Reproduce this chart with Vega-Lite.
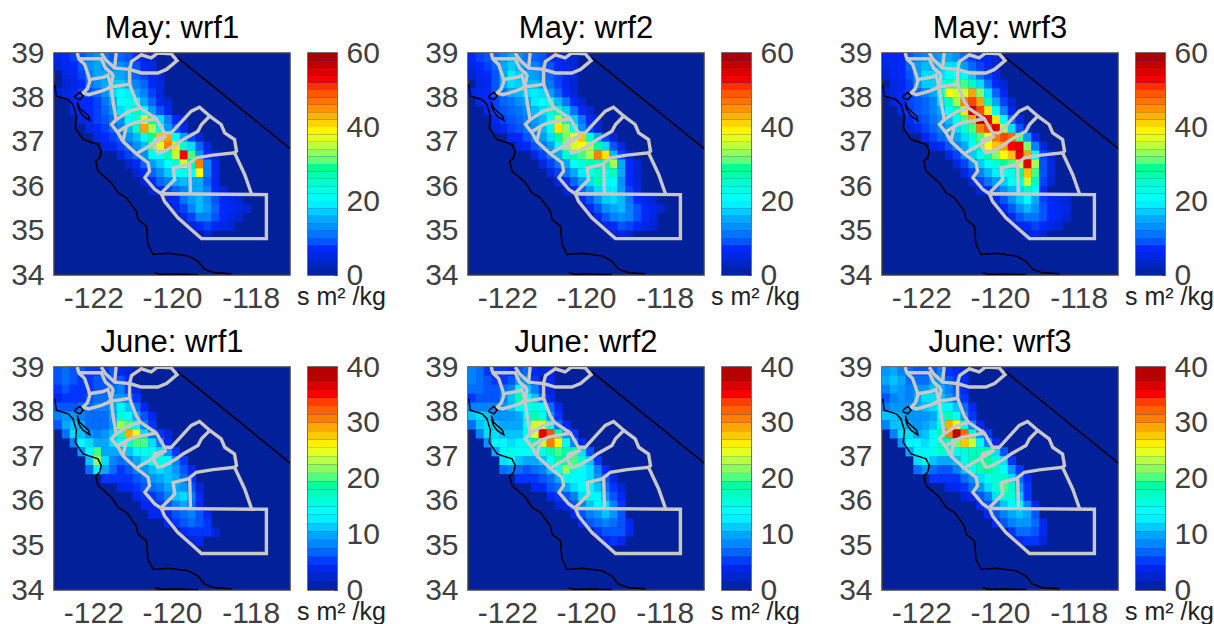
{"$schema":"https://vega.github.io/schema/vega-lite/v6.json","padding":{"left":9,"top":12,"right":0,"bottom":0},"config":{"font":"Liberation Sans","view":{"fill":"#03209b","stroke":"#404040","strokeWidth":1.5},"axis":{"grid":false,"labelFont":"Liberation Sans","labelFontSize":30,"labelColor":"#404040","ticks":false,"domain":false,"title":null},"title":{"font":"Liberation Sans","fontSize":31,"fontWeight":"normal","color":"#000000","offset":-7}},"datasets":{
"d1":[{"x":-122.9,"y":38.9,"v":5},{"x":-122.7,"y":38.9,"v":7},{"x":-122.5,"y":38.9,"v":8},{"x":-122.3,"y":38.9,"v":9},{"x":-122.1,"y":38.9,"v":11},{"x":-121.9,"y":38.9,"v":13},{"x":-121.7,"y":38.9,"v":11},{"x":-121.5,"y":38.9,"v":9},{"x":-121.3,"y":38.9,"v":10},{"x":-121.1,"y":38.9,"v":9},{"x":-120.9,"y":38.9,"v":7},{"x":-120.7,"y":38.9,"v":5},{"x":-120.5,"y":38.9,"v":4},
{"x":-122.9,"y":38.7,"v":4},{"x":-122.7,"y":38.7,"v":6},{"x":-122.5,"y":38.7,"v":7},{"x":-122.3,"y":38.7,"v":9},{"x":-122.1,"y":38.7,"v":13},{"x":-121.9,"y":38.7,"v":15},{"x":-121.7,"y":38.7,"v":13},{"x":-121.5,"y":38.7,"v":12},{"x":-121.3,"y":38.7,"v":13},{"x":-121.1,"y":38.7,"v":11},{"x":-120.9,"y":38.7,"v":9},{"x":-120.7,"y":38.7,"v":6},{"x":-120.5,"y":38.7,"v":5},
{"x":-122.7,"y":38.5,"v":5},{"x":-122.5,"y":38.5,"v":6},{"x":-122.3,"y":38.5,"v":8},{"x":-122.1,"y":38.5,"v":12},{"x":-121.9,"y":38.5,"v":15},{"x":-121.7,"y":38.5,"v":15},{"x":-121.5,"y":38.5,"v":15},{"x":-121.3,"y":38.5,"v":15},{"x":-121.1,"y":38.5,"v":13},{"x":-120.9,"y":38.5,"v":10},{"x":-120.7,"y":38.5,"v":8},{"x":-120.5,"y":38.5,"v":6},{"x":-120.3,"y":38.5,"v":4},
{"x":-122.7,"y":38.3,"v":4},{"x":-122.5,"y":38.3,"v":5},{"x":-122.3,"y":38.3,"v":7},{"x":-122.1,"y":38.3,"v":11},{"x":-121.9,"y":38.3,"v":13},{"x":-121.7,"y":38.3,"v":15},{"x":-121.5,"y":38.3,"v":17},{"x":-121.3,"y":38.3,"v":17},{"x":-121.1,"y":38.3,"v":15},{"x":-120.9,"y":38.3,"v":12},{"x":-120.7,"y":38.3,"v":10},{"x":-120.5,"y":38.3,"v":7},{"x":-120.3,"y":38.3,"v":5},
{"x":-122.9,"y":38.1,"v":4},{"x":-122.7,"y":38.1,"v":5},{"x":-122.5,"y":38.1,"v":6},{"x":-122.3,"y":38.1,"v":8},{"x":-122.1,"y":38.1,"v":9},{"x":-121.9,"y":38.1,"v":10},{"x":-121.7,"y":38.1,"v":13},{"x":-121.5,"y":38.1,"v":18},{"x":-121.3,"y":38.1,"v":20},{"x":-121.1,"y":38.1,"v":19},{"x":-120.9,"y":38.1,"v":15},{"x":-120.7,"y":38.1,"v":12},{"x":-120.5,"y":38.1,"v":8},{"x":-120.3,"y":38.1,"v":5},
{"x":-122.5,"y":37.9,"v":6},{"x":-122.3,"y":37.9,"v":7},{"x":-122.1,"y":37.9,"v":7},{"x":-121.9,"y":37.9,"v":8},{"x":-121.7,"y":37.9,"v":11},{"x":-121.5,"y":37.9,"v":15},{"x":-121.3,"y":37.9,"v":20},{"x":-121.1,"y":37.9,"v":22},{"x":-120.9,"y":37.9,"v":20},{"x":-120.7,"y":37.9,"v":15},{"x":-120.5,"y":37.9,"v":10},{"x":-120.3,"y":37.9,"v":6},{"x":-120.1,"y":37.9,"v":4},
{"x":-122.5,"y":37.7,"v":5},{"x":-122.3,"y":37.7,"v":7},{"x":-122.1,"y":37.7,"v":7},{"x":-121.9,"y":37.7,"v":8},{"x":-121.7,"y":37.7,"v":10},{"x":-121.5,"y":37.7,"v":13},{"x":-121.3,"y":37.7,"v":18},{"x":-121.1,"y":37.7,"v":21},{"x":-120.9,"y":37.7,"v":26},{"x":-120.7,"y":37.7,"v":20},{"x":-120.5,"y":37.7,"v":14},{"x":-120.3,"y":37.7,"v":9},{"x":-120.1,"y":37.7,"v":6},
{"x":-122.3,"y":37.5,"v":5},{"x":-122.1,"y":37.5,"v":6},{"x":-121.9,"y":37.5,"v":8},{"x":-121.7,"y":37.5,"v":9},{"x":-121.5,"y":37.5,"v":11},{"x":-121.3,"y":37.5,"v":13},{"x":-121.1,"y":37.5,"v":20},{"x":-120.9,"y":37.5,"v":24},{"x":-120.7,"y":37.5,"v":36},{"x":-120.5,"y":37.5,"v":28},{"x":-120.3,"y":37.5,"v":18},{"x":-120.1,"y":37.5,"v":12},{"x":-119.9,"y":37.5,"v":7},{"x":-119.7,"y":37.5,"v":4},
{"x":-122.1,"y":37.3,"v":5},{"x":-121.9,"y":37.3,"v":7},{"x":-121.7,"y":37.3,"v":8},{"x":-121.5,"y":37.3,"v":10},{"x":-121.3,"y":37.3,"v":12},{"x":-121.1,"y":37.3,"v":16},{"x":-120.9,"y":37.3,"v":25},{"x":-120.7,"y":37.3,"v":44},{"x":-120.5,"y":37.3,"v":34},{"x":-120.3,"y":37.3,"v":22},{"x":-120.1,"y":37.3,"v":14},{"x":-119.9,"y":37.3,"v":9},{"x":-119.7,"y":37.3,"v":5},
{"x":-121.9,"y":37.1,"v":5},{"x":-121.7,"y":37.1,"v":7},{"x":-121.5,"y":37.1,"v":8},{"x":-121.3,"y":37.1,"v":10},{"x":-121.1,"y":37.1,"v":13},{"x":-120.9,"y":37.1,"v":16},{"x":-120.7,"y":37.1,"v":22},{"x":-120.5,"y":37.1,"v":28},{"x":-120.3,"y":37.1,"v":42},{"x":-120.1,"y":37.1,"v":44},{"x":-119.9,"y":37.1,"v":20},{"x":-119.7,"y":37.1,"v":14},{"x":-119.5,"y":37.1,"v":8},{"x":-119.3,"y":37.1,"v":4},
{"x":-121.7,"y":36.9,"v":5},{"x":-121.5,"y":36.9,"v":6},{"x":-121.3,"y":36.9,"v":8},{"x":-121.1,"y":36.9,"v":10},{"x":-120.9,"y":36.9,"v":13},{"x":-120.7,"y":36.9,"v":16},{"x":-120.5,"y":36.9,"v":30},{"x":-120.3,"y":36.9,"v":37},{"x":-120.1,"y":36.9,"v":46},{"x":-119.9,"y":36.9,"v":40},{"x":-119.7,"y":36.9,"v":24},{"x":-119.5,"y":36.9,"v":18},{"x":-119.3,"y":36.9,"v":10},{"x":-119.1,"y":36.9,"v":5},
{"x":-121.3,"y":36.7,"v":5},{"x":-121.1,"y":36.7,"v":8},{"x":-120.9,"y":36.7,"v":10},{"x":-120.7,"y":36.7,"v":13},{"x":-120.5,"y":36.7,"v":20},{"x":-120.3,"y":36.7,"v":20},{"x":-120.1,"y":36.7,"v":26},{"x":-119.9,"y":36.7,"v":35},{"x":-119.7,"y":36.7,"v":52},{"x":-119.5,"y":36.7,"v":30},{"x":-119.3,"y":36.7,"v":14},{"x":-119.1,"y":36.7,"v":7},{"x":-118.9,"y":36.7,"v":4},
{"x":-121.1,"y":36.5,"v":4},{"x":-120.9,"y":36.5,"v":7},{"x":-120.7,"y":36.5,"v":10},{"x":-120.5,"y":36.5,"v":14},{"x":-120.3,"y":36.5,"v":17},{"x":-120.1,"y":36.5,"v":20},{"x":-119.9,"y":36.5,"v":24},{"x":-119.7,"y":36.5,"v":36},{"x":-119.5,"y":36.5,"v":28},{"x":-119.3,"y":36.5,"v":46},{"x":-119.1,"y":36.5,"v":12},{"x":-118.9,"y":36.5,"v":6},
{"x":-120.9,"y":36.3,"v":4},{"x":-120.7,"y":36.3,"v":7},{"x":-120.5,"y":36.3,"v":10},{"x":-120.3,"y":36.3,"v":13},{"x":-120.1,"y":36.3,"v":17},{"x":-119.9,"y":36.3,"v":20},{"x":-119.7,"y":36.3,"v":22},{"x":-119.5,"y":36.3,"v":20},{"x":-119.3,"y":36.3,"v":38},{"x":-119.1,"y":36.3,"v":12},{"x":-118.9,"y":36.3,"v":6},
{"x":-120.7,"y":36.1,"v":4},{"x":-120.5,"y":36.1,"v":7},{"x":-120.3,"y":36.1,"v":10},{"x":-120.1,"y":36.1,"v":12},{"x":-119.9,"y":36.1,"v":15},{"x":-119.7,"y":36.1,"v":16},{"x":-119.5,"y":36.1,"v":15},{"x":-119.3,"y":36.1,"v":15},{"x":-119.1,"y":36.1,"v":10},{"x":-118.9,"y":36.1,"v":6},
{"x":-120.5,"y":35.9,"v":4},{"x":-120.3,"y":35.9,"v":6},{"x":-120.1,"y":35.9,"v":8},{"x":-119.9,"y":35.9,"v":10},{"x":-119.7,"y":35.9,"v":12},{"x":-119.5,"y":35.9,"v":15},{"x":-119.3,"y":35.9,"v":15},{"x":-119.1,"y":35.9,"v":12},{"x":-118.9,"y":35.9,"v":7},{"x":-118.7,"y":35.9,"v":4},
{"x":-120.1,"y":35.7,"v":5},{"x":-119.9,"y":35.7,"v":7},{"x":-119.7,"y":35.7,"v":11},{"x":-119.5,"y":35.7,"v":14},{"x":-119.3,"y":35.7,"v":16},{"x":-119.1,"y":35.7,"v":13},{"x":-118.9,"y":35.7,"v":9},{"x":-118.7,"y":35.7,"v":6},{"x":-118.5,"y":35.7,"v":5},{"x":-118.3,"y":35.7,"v":4},
{"x":-119.9,"y":35.5,"v":5},{"x":-119.7,"y":35.5,"v":8},{"x":-119.5,"y":35.5,"v":12},{"x":-119.3,"y":35.5,"v":16},{"x":-119.1,"y":35.5,"v":14},{"x":-118.9,"y":35.5,"v":10},{"x":-118.7,"y":35.5,"v":7},{"x":-118.5,"y":35.5,"v":6},{"x":-118.3,"y":35.5,"v":5},{"x":-118.1,"y":35.5,"v":4},
{"x":-119.7,"y":35.3,"v":5},{"x":-119.5,"y":35.3,"v":8},{"x":-119.3,"y":35.3,"v":12},{"x":-119.1,"y":35.3,"v":12},{"x":-118.9,"y":35.3,"v":9},{"x":-118.7,"y":35.3,"v":7},{"x":-118.5,"y":35.3,"v":5},{"x":-118.3,"y":35.3,"v":4},
{"x":-119.5,"y":35.1,"v":4},{"x":-119.3,"y":35.1,"v":7},{"x":-119.1,"y":35.1,"v":8},{"x":-118.9,"y":35.1,"v":6},{"x":-118.7,"y":35.1,"v":5},{"x":-118.5,"y":35.1,"v":4},{"x":-119.1,"y":34.9,"v":4}],
"d2":[{"x":-122.9,"y":38.9,"v":6},{"x":-122.7,"y":38.9,"v":8},{"x":-122.5,"y":38.9,"v":9},{"x":-122.3,"y":38.9,"v":10},{"x":-122.1,"y":38.9,"v":12},{"x":-121.9,"y":38.9,"v":15},{"x":-121.7,"y":38.9,"v":13},{"x":-121.5,"y":38.9,"v":11},{"x":-121.3,"y":38.9,"v":10},{"x":-121.1,"y":38.9,"v":9},{"x":-120.9,"y":38.9,"v":7},{"x":-120.7,"y":38.9,"v":6},{"x":-120.5,"y":38.9,"v":5},{"x":-120.3,"y":38.9,"v":4},
{"x":-122.9,"y":38.7,"v":5},{"x":-122.7,"y":38.7,"v":7},{"x":-122.5,"y":38.7,"v":8},{"x":-122.3,"y":38.7,"v":10},{"x":-122.1,"y":38.7,"v":15},{"x":-121.9,"y":38.7,"v":17},{"x":-121.7,"y":38.7,"v":15},{"x":-121.5,"y":38.7,"v":12},{"x":-121.3,"y":38.7,"v":12},{"x":-121.1,"y":38.7,"v":10},{"x":-120.9,"y":38.7,"v":9},{"x":-120.7,"y":38.7,"v":7},{"x":-120.5,"y":38.7,"v":5},{"x":-120.3,"y":38.7,"v":4},
{"x":-122.9,"y":38.5,"v":4},{"x":-122.7,"y":38.5,"v":6},{"x":-122.5,"y":38.5,"v":7},{"x":-122.3,"y":38.5,"v":9},{"x":-122.1,"y":38.5,"v":15},{"x":-121.9,"y":38.5,"v":19},{"x":-121.7,"y":38.5,"v":17},{"x":-121.5,"y":38.5,"v":15},{"x":-121.3,"y":38.5,"v":14},{"x":-121.1,"y":38.5,"v":12},{"x":-120.9,"y":38.5,"v":10},{"x":-120.7,"y":38.5,"v":8},{"x":-120.5,"y":38.5,"v":6},{"x":-120.3,"y":38.5,"v":4},
{"x":-122.7,"y":38.3,"v":5},{"x":-122.5,"y":38.3,"v":6},{"x":-122.3,"y":38.3,"v":9},{"x":-122.1,"y":38.3,"v":15},{"x":-121.9,"y":38.3,"v":18},{"x":-121.7,"y":38.3,"v":17},{"x":-121.5,"y":38.3,"v":16},{"x":-121.3,"y":38.3,"v":16},{"x":-121.1,"y":38.3,"v":14},{"x":-120.9,"y":38.3,"v":11},{"x":-120.7,"y":38.3,"v":8},{"x":-120.5,"y":38.3,"v":6},{"x":-120.3,"y":38.3,"v":4},
{"x":-122.9,"y":38.1,"v":5},{"x":-122.7,"y":38.1,"v":6},{"x":-122.5,"y":38.1,"v":7},{"x":-122.3,"y":38.1,"v":9},{"x":-122.1,"y":38.1,"v":11},{"x":-121.9,"y":38.1,"v":15},{"x":-121.7,"y":38.1,"v":16},{"x":-121.5,"y":38.1,"v":18},{"x":-121.3,"y":38.1,"v":19},{"x":-121.1,"y":38.1,"v":18},{"x":-120.9,"y":38.1,"v":14},{"x":-120.7,"y":38.1,"v":10},{"x":-120.5,"y":38.1,"v":7},{"x":-120.3,"y":38.1,"v":4},
{"x":-122.7,"y":37.9,"v":5},{"x":-122.5,"y":37.9,"v":7},{"x":-122.3,"y":37.9,"v":8},{"x":-122.1,"y":37.9,"v":10},{"x":-121.9,"y":37.9,"v":11},{"x":-121.7,"y":37.9,"v":13},{"x":-121.5,"y":37.9,"v":15},{"x":-121.3,"y":37.9,"v":19},{"x":-121.1,"y":37.9,"v":20},{"x":-120.9,"y":37.9,"v":22},{"x":-120.7,"y":37.9,"v":16},{"x":-120.5,"y":37.9,"v":11},{"x":-120.3,"y":37.9,"v":7},{"x":-120.1,"y":37.9,"v":4},
{"x":-122.5,"y":37.7,"v":6},{"x":-122.3,"y":37.7,"v":8},{"x":-122.1,"y":37.7,"v":9},{"x":-121.9,"y":37.7,"v":10},{"x":-121.7,"y":37.7,"v":11},{"x":-121.5,"y":37.7,"v":13},{"x":-121.3,"y":37.7,"v":16},{"x":-121.1,"y":37.7,"v":18},{"x":-120.9,"y":37.7,"v":24},{"x":-120.7,"y":37.7,"v":26},{"x":-120.5,"y":37.7,"v":17},{"x":-120.3,"y":37.7,"v":11},{"x":-120.1,"y":37.7,"v":7},{"x":-119.9,"y":37.7,"v":4},
{"x":-122.3,"y":37.5,"v":6},{"x":-122.1,"y":37.5,"v":8},{"x":-121.9,"y":37.5,"v":9},{"x":-121.7,"y":37.5,"v":10},{"x":-121.5,"y":37.5,"v":12},{"x":-121.3,"y":37.5,"v":14},{"x":-121.1,"y":37.5,"v":16},{"x":-120.9,"y":37.5,"v":22},{"x":-120.7,"y":37.5,"v":34},{"x":-120.5,"y":37.5,"v":26},{"x":-120.3,"y":37.5,"v":17},{"x":-120.1,"y":37.5,"v":11},{"x":-119.9,"y":37.5,"v":6},{"x":-119.7,"y":37.5,"v":4},
{"x":-122.3,"y":37.3,"v":4},{"x":-122.1,"y":37.3,"v":6},{"x":-121.9,"y":37.3,"v":8},{"x":-121.7,"y":37.3,"v":9},{"x":-121.5,"y":37.3,"v":11},{"x":-121.3,"y":37.3,"v":13},{"x":-121.1,"y":37.3,"v":16},{"x":-120.9,"y":37.3,"v":22},{"x":-120.7,"y":37.3,"v":40},{"x":-120.5,"y":37.3,"v":33},{"x":-120.3,"y":37.3,"v":20},{"x":-120.1,"y":37.3,"v":13},{"x":-119.9,"y":37.3,"v":8},{"x":-119.7,"y":37.3,"v":4},
{"x":-121.9,"y":37.1,"v":6},{"x":-121.7,"y":37.1,"v":7},{"x":-121.5,"y":37.1,"v":9},{"x":-121.3,"y":37.1,"v":11},{"x":-121.1,"y":37.1,"v":14},{"x":-120.9,"y":37.1,"v":18},{"x":-120.7,"y":37.1,"v":28},{"x":-120.5,"y":37.1,"v":32},{"x":-120.3,"y":37.1,"v":38},{"x":-120.1,"y":37.1,"v":42},{"x":-119.9,"y":37.1,"v":24},{"x":-119.7,"y":37.1,"v":15},{"x":-119.5,"y":37.1,"v":8},{"x":-119.3,"y":37.1,"v":4},
{"x":-121.7,"y":36.9,"v":5},{"x":-121.5,"y":36.9,"v":7},{"x":-121.3,"y":36.9,"v":9},{"x":-121.1,"y":36.9,"v":11},{"x":-120.9,"y":36.9,"v":14},{"x":-120.7,"y":36.9,"v":20},{"x":-120.5,"y":36.9,"v":32},{"x":-120.3,"y":36.9,"v":36},{"x":-120.1,"y":36.9,"v":38},{"x":-119.9,"y":36.9,"v":34},{"x":-119.7,"y":36.9,"v":28},{"x":-119.5,"y":36.9,"v":18},{"x":-119.3,"y":36.9,"v":9},{"x":-119.1,"y":36.9,"v":5},
{"x":-121.3,"y":36.7,"v":5},{"x":-121.1,"y":36.7,"v":8},{"x":-120.9,"y":36.7,"v":11},{"x":-120.7,"y":36.7,"v":15},{"x":-120.5,"y":36.7,"v":24},{"x":-120.3,"y":36.7,"v":26},{"x":-120.1,"y":36.7,"v":30},{"x":-119.9,"y":36.7,"v":34},{"x":-119.7,"y":36.7,"v":46},{"x":-119.5,"y":36.7,"v":40},{"x":-119.3,"y":36.7,"v":16},{"x":-119.1,"y":36.7,"v":8},{"x":-118.9,"y":36.7,"v":4},
{"x":-121.1,"y":36.5,"v":5},{"x":-120.9,"y":36.5,"v":8},{"x":-120.7,"y":36.5,"v":11},{"x":-120.5,"y":36.5,"v":15},{"x":-120.3,"y":36.5,"v":20},{"x":-120.1,"y":36.5,"v":24},{"x":-119.9,"y":36.5,"v":26},{"x":-119.7,"y":36.5,"v":26},{"x":-119.5,"y":36.5,"v":28},{"x":-119.3,"y":36.5,"v":34},{"x":-119.1,"y":36.5,"v":15},{"x":-118.9,"y":36.5,"v":7},{"x":-118.7,"y":36.5,"v":4},
{"x":-120.9,"y":36.3,"v":5},{"x":-120.7,"y":36.3,"v":8},{"x":-120.5,"y":36.3,"v":11},{"x":-120.3,"y":36.3,"v":15},{"x":-120.1,"y":36.3,"v":19},{"x":-119.9,"y":36.3,"v":22},{"x":-119.7,"y":36.3,"v":25},{"x":-119.5,"y":36.3,"v":22},{"x":-119.3,"y":36.3,"v":26},{"x":-119.1,"y":36.3,"v":15},{"x":-118.9,"y":36.3,"v":7},{"x":-118.7,"y":36.3,"v":4},
{"x":-120.7,"y":36.1,"v":5},{"x":-120.5,"y":36.1,"v":7},{"x":-120.3,"y":36.1,"v":10},{"x":-120.1,"y":36.1,"v":14},{"x":-119.9,"y":36.1,"v":18},{"x":-119.7,"y":36.1,"v":27},{"x":-119.5,"y":36.1,"v":20},{"x":-119.3,"y":36.1,"v":20},{"x":-119.1,"y":36.1,"v":13},{"x":-118.9,"y":36.1,"v":7},{"x":-118.7,"y":36.1,"v":4},
{"x":-120.5,"y":35.9,"v":4},{"x":-120.3,"y":35.9,"v":6},{"x":-120.1,"y":35.9,"v":10},{"x":-119.9,"y":35.9,"v":14},{"x":-119.7,"y":35.9,"v":18},{"x":-119.5,"y":35.9,"v":19},{"x":-119.3,"y":35.9,"v":19},{"x":-119.1,"y":35.9,"v":14},{"x":-118.9,"y":35.9,"v":8},{"x":-118.7,"y":35.9,"v":5},
{"x":-120.1,"y":35.7,"v":6},{"x":-119.9,"y":35.7,"v":9},{"x":-119.7,"y":35.7,"v":13},{"x":-119.5,"y":35.7,"v":17},{"x":-119.3,"y":35.7,"v":18},{"x":-119.1,"y":35.7,"v":16},{"x":-118.9,"y":35.7,"v":11},{"x":-118.7,"y":35.7,"v":7},{"x":-118.5,"y":35.7,"v":5},{"x":-118.3,"y":35.7,"v":4},
{"x":-119.9,"y":35.5,"v":6},{"x":-119.7,"y":35.5,"v":9},{"x":-119.5,"y":35.5,"v":13},{"x":-119.3,"y":35.5,"v":15},{"x":-119.1,"y":35.5,"v":16},{"x":-118.9,"y":35.5,"v":12},{"x":-118.7,"y":35.5,"v":9},{"x":-118.5,"y":35.5,"v":7},{"x":-118.3,"y":35.5,"v":5},{"x":-118.1,"y":35.5,"v":4},
{"x":-119.7,"y":35.3,"v":6},{"x":-119.5,"y":35.3,"v":9},{"x":-119.3,"y":35.3,"v":12},{"x":-119.1,"y":35.3,"v":13},{"x":-118.9,"y":35.3,"v":12},{"x":-118.7,"y":35.3,"v":9},{"x":-118.5,"y":35.3,"v":7},{"x":-118.3,"y":35.3,"v":5},
{"x":-119.5,"y":35.1,"v":5},{"x":-119.3,"y":35.1,"v":7},{"x":-119.1,"y":35.1,"v":9},{"x":-118.9,"y":35.1,"v":8},{"x":-118.7,"y":35.1,"v":7},{"x":-118.5,"y":35.1,"v":5},{"x":-118.3,"y":35.1,"v":4},{"x":-119.3,"y":34.9,"v":4},{"x":-119.1,"y":34.9,"v":5},{"x":-118.9,"y":34.9,"v":4}],
"d3":[{"x":-122.9,"y":38.9,"v":6},{"x":-122.7,"y":38.9,"v":6},{"x":-122.5,"y":38.9,"v":7},{"x":-122.3,"y":38.9,"v":9},{"x":-122.1,"y":38.9,"v":11},{"x":-121.9,"y":38.9,"v":12},{"x":-121.7,"y":38.9,"v":13},{"x":-121.5,"y":38.9,"v":14},{"x":-121.3,"y":38.9,"v":15},{"x":-121.1,"y":38.9,"v":13},{"x":-120.9,"y":38.9,"v":10},{"x":-120.7,"y":38.9,"v":8},{"x":-120.5,"y":38.9,"v":6},{"x":-120.3,"y":38.9,"v":5},{"x":-120.1,"y":38.9,"v":4},
{"x":-122.9,"y":38.7,"v":5},{"x":-122.7,"y":38.7,"v":6},{"x":-122.5,"y":38.7,"v":7},{"x":-122.3,"y":38.7,"v":10},{"x":-122.1,"y":38.7,"v":14},{"x":-121.9,"y":38.7,"v":16},{"x":-121.7,"y":38.7,"v":15},{"x":-121.5,"y":38.7,"v":16},{"x":-121.3,"y":38.7,"v":18},{"x":-121.1,"y":38.7,"v":18},{"x":-120.9,"y":38.7,"v":14},{"x":-120.7,"y":38.7,"v":10},{"x":-120.5,"y":38.7,"v":8},{"x":-120.3,"y":38.7,"v":6},{"x":-120.1,"y":38.7,"v":4},
{"x":-122.9,"y":38.5,"v":4},{"x":-122.7,"y":38.5,"v":6},{"x":-122.5,"y":38.5,"v":7},{"x":-122.3,"y":38.5,"v":9},{"x":-122.1,"y":38.5,"v":14},{"x":-121.9,"y":38.5,"v":18},{"x":-121.7,"y":38.5,"v":18},{"x":-121.5,"y":38.5,"v":18},{"x":-121.3,"y":38.5,"v":21},{"x":-121.1,"y":38.5,"v":21},{"x":-120.9,"y":38.5,"v":20},{"x":-120.7,"y":38.5,"v":17},{"x":-120.5,"y":38.5,"v":11},{"x":-120.3,"y":38.5,"v":8},{"x":-120.1,"y":38.5,"v":5},
{"x":-122.7,"y":38.3,"v":5},{"x":-122.5,"y":38.3,"v":6},{"x":-122.3,"y":38.3,"v":8},{"x":-122.1,"y":38.3,"v":13},{"x":-121.9,"y":38.3,"v":17},{"x":-121.7,"y":38.3,"v":17},{"x":-121.5,"y":38.3,"v":20},{"x":-121.3,"y":38.3,"v":26},{"x":-121.1,"y":38.3,"v":30},{"x":-120.9,"y":38.3,"v":30},{"x":-120.7,"y":38.3,"v":26},{"x":-120.5,"y":38.3,"v":18},{"x":-120.3,"y":38.3,"v":11},{"x":-120.1,"y":38.3,"v":7},{"x":-119.9,"y":38.3,"v":4},
{"x":-122.9,"y":38.1,"v":4},{"x":-122.7,"y":38.1,"v":5},{"x":-122.5,"y":38.1,"v":7},{"x":-122.3,"y":38.1,"v":8},{"x":-122.1,"y":38.1,"v":10},{"x":-121.9,"y":38.1,"v":12},{"x":-121.7,"y":38.1,"v":15},{"x":-121.5,"y":38.1,"v":24},{"x":-121.3,"y":38.1,"v":38},{"x":-121.1,"y":38.1,"v":36},{"x":-120.9,"y":38.1,"v":36},{"x":-120.7,"y":38.1,"v":44},{"x":-120.5,"y":38.1,"v":32},{"x":-120.3,"y":38.1,"v":18},{"x":-120.1,"y":38.1,"v":10},{"x":-119.9,"y":38.1,"v":6},
{"x":-122.7,"y":37.9,"v":4},{"x":-122.5,"y":37.9,"v":7},{"x":-122.3,"y":37.9,"v":8},{"x":-122.1,"y":37.9,"v":9},{"x":-121.9,"y":37.9,"v":10},{"x":-121.7,"y":37.9,"v":12},{"x":-121.5,"y":37.9,"v":18},{"x":-121.3,"y":37.9,"v":26},{"x":-121.1,"y":37.9,"v":34},{"x":-120.9,"y":37.9,"v":46},{"x":-120.7,"y":37.9,"v":50},{"x":-120.5,"y":37.9,"v":44},{"x":-120.3,"y":37.9,"v":26},{"x":-120.1,"y":37.9,"v":15},{"x":-119.9,"y":37.9,"v":8},{"x":-119.7,"y":37.9,"v":4},
{"x":-122.5,"y":37.7,"v":6},{"x":-122.3,"y":37.7,"v":8},{"x":-122.1,"y":37.7,"v":9},{"x":-121.9,"y":37.7,"v":10},{"x":-121.7,"y":37.7,"v":12},{"x":-121.5,"y":37.7,"v":15},{"x":-121.3,"y":37.7,"v":20},{"x":-121.1,"y":37.7,"v":28},{"x":-120.9,"y":37.7,"v":40},{"x":-120.7,"y":37.7,"v":56},{"x":-120.5,"y":37.7,"v":50},{"x":-120.3,"y":37.7,"v":40},{"x":-120.1,"y":37.7,"v":22},{"x":-119.9,"y":37.7,"v":12},{"x":-119.7,"y":37.7,"v":6},
{"x":-122.3,"y":37.5,"v":6},{"x":-122.1,"y":37.5,"v":8},{"x":-121.9,"y":37.5,"v":9},{"x":-121.7,"y":37.5,"v":11},{"x":-121.5,"y":37.5,"v":13},{"x":-121.3,"y":37.5,"v":16},{"x":-121.1,"y":37.5,"v":21},{"x":-120.9,"y":37.5,"v":30},{"x":-120.7,"y":37.5,"v":44},{"x":-120.5,"y":37.5,"v":58},{"x":-120.3,"y":37.5,"v":54},{"x":-120.1,"y":37.5,"v":40},{"x":-119.9,"y":37.5,"v":20},{"x":-119.7,"y":37.5,"v":10},{"x":-119.5,"y":37.5,"v":5},
{"x":-122.3,"y":37.3,"v":4},{"x":-122.1,"y":37.3,"v":6},{"x":-121.9,"y":37.3,"v":8},{"x":-121.7,"y":37.3,"v":10},{"x":-121.5,"y":37.3,"v":12},{"x":-121.3,"y":37.3,"v":14},{"x":-121.1,"y":37.3,"v":18},{"x":-120.9,"y":37.3,"v":24},{"x":-120.7,"y":37.3,"v":30},{"x":-120.5,"y":37.3,"v":46},{"x":-120.3,"y":37.3,"v":50},{"x":-120.1,"y":37.3,"v":54},{"x":-119.9,"y":37.3,"v":34},{"x":-119.7,"y":37.3,"v":18},{"x":-119.5,"y":37.3,"v":9},{"x":-119.3,"y":37.3,"v":4},
{"x":-121.9,"y":37.1,"v":6},{"x":-121.7,"y":37.1,"v":8},{"x":-121.5,"y":37.1,"v":10},{"x":-121.3,"y":37.1,"v":12},{"x":-121.1,"y":37.1,"v":15},{"x":-120.9,"y":37.1,"v":18},{"x":-120.7,"y":37.1,"v":24},{"x":-120.5,"y":37.1,"v":30},{"x":-120.3,"y":37.1,"v":38},{"x":-120.1,"y":37.1,"v":46},{"x":-119.9,"y":37.1,"v":50},{"x":-119.7,"y":37.1,"v":48},{"x":-119.5,"y":37.1,"v":30},{"x":-119.3,"y":37.1,"v":14},{"x":-119.1,"y":37.1,"v":6},
{"x":-121.7,"y":36.9,"v":5},{"x":-121.5,"y":36.9,"v":7},{"x":-121.3,"y":36.9,"v":9},{"x":-121.1,"y":36.9,"v":12},{"x":-120.9,"y":36.9,"v":15},{"x":-120.7,"y":36.9,"v":20},{"x":-120.5,"y":36.9,"v":28},{"x":-120.3,"y":36.9,"v":38},{"x":-120.1,"y":36.9,"v":42},{"x":-119.9,"y":36.9,"v":44},{"x":-119.7,"y":36.9,"v":52},{"x":-119.5,"y":36.9,"v":54},{"x":-119.3,"y":36.9,"v":32},{"x":-119.1,"y":36.9,"v":12},{"x":-118.9,"y":36.9,"v":5},
{"x":-121.3,"y":36.7,"v":5},{"x":-121.1,"y":36.7,"v":8},{"x":-120.9,"y":36.7,"v":12},{"x":-120.7,"y":36.7,"v":17},{"x":-120.5,"y":36.7,"v":22},{"x":-120.3,"y":36.7,"v":27},{"x":-120.1,"y":36.7,"v":32},{"x":-119.9,"y":36.7,"v":38},{"x":-119.7,"y":36.7,"v":42},{"x":-119.5,"y":36.7,"v":54},{"x":-119.3,"y":36.7,"v":44},{"x":-119.1,"y":36.7,"v":20},{"x":-118.9,"y":36.7,"v":8},{"x":-118.7,"y":36.7,"v":4},
{"x":-121.1,"y":36.5,"v":5},{"x":-120.9,"y":36.5,"v":8},{"x":-120.7,"y":36.5,"v":13},{"x":-120.5,"y":36.5,"v":17},{"x":-120.3,"y":36.5,"v":21},{"x":-120.1,"y":36.5,"v":24},{"x":-119.9,"y":36.5,"v":28},{"x":-119.7,"y":36.5,"v":30},{"x":-119.5,"y":36.5,"v":36},{"x":-119.3,"y":36.5,"v":54},{"x":-119.1,"y":36.5,"v":34},{"x":-118.9,"y":36.5,"v":9},{"x":-118.7,"y":36.5,"v":5},
{"x":-120.9,"y":36.3,"v":5},{"x":-120.7,"y":36.3,"v":8},{"x":-120.5,"y":36.3,"v":12},{"x":-120.3,"y":36.3,"v":16},{"x":-120.1,"y":36.3,"v":19},{"x":-119.9,"y":36.3,"v":20},{"x":-119.7,"y":36.3,"v":23},{"x":-119.5,"y":36.3,"v":28},{"x":-119.3,"y":36.3,"v":42},{"x":-119.1,"y":36.3,"v":30},{"x":-118.9,"y":36.3,"v":9},{"x":-118.7,"y":36.3,"v":5},
{"x":-120.7,"y":36.1,"v":5},{"x":-120.5,"y":36.1,"v":8},{"x":-120.3,"y":36.1,"v":11},{"x":-120.1,"y":36.1,"v":14},{"x":-119.9,"y":36.1,"v":17},{"x":-119.7,"y":36.1,"v":20},{"x":-119.5,"y":36.1,"v":22},{"x":-119.3,"y":36.1,"v":36},{"x":-119.1,"y":36.1,"v":26},{"x":-118.9,"y":36.1,"v":8},{"x":-118.7,"y":36.1,"v":4},
{"x":-120.5,"y":35.9,"v":4},{"x":-120.3,"y":35.9,"v":7},{"x":-120.1,"y":35.9,"v":10},{"x":-119.9,"y":35.9,"v":13},{"x":-119.7,"y":35.9,"v":16},{"x":-119.5,"y":35.9,"v":18},{"x":-119.3,"y":35.9,"v":26},{"x":-119.1,"y":35.9,"v":20},{"x":-118.9,"y":35.9,"v":7},
{"x":-120.1,"y":35.7,"v":6},{"x":-119.9,"y":35.7,"v":9},{"x":-119.7,"y":35.7,"v":13},{"x":-119.5,"y":35.7,"v":17},{"x":-119.3,"y":35.7,"v":20},{"x":-119.1,"y":35.7,"v":15},{"x":-118.9,"y":35.7,"v":8},{"x":-118.7,"y":35.7,"v":6},{"x":-118.5,"y":35.7,"v":5},{"x":-118.3,"y":35.7,"v":4},
{"x":-119.9,"y":35.5,"v":6},{"x":-119.7,"y":35.5,"v":9},{"x":-119.5,"y":35.5,"v":13},{"x":-119.3,"y":35.5,"v":16},{"x":-119.1,"y":35.5,"v":13},{"x":-118.9,"y":35.5,"v":9},{"x":-118.7,"y":35.5,"v":7},{"x":-118.5,"y":35.5,"v":6},{"x":-118.3,"y":35.5,"v":5},
{"x":-119.7,"y":35.3,"v":6},{"x":-119.5,"y":35.3,"v":9},{"x":-119.3,"y":35.3,"v":11},{"x":-119.1,"y":35.3,"v":11},{"x":-118.9,"y":35.3,"v":9},{"x":-118.7,"y":35.3,"v":7},{"x":-118.5,"y":35.3,"v":6},{"x":-118.3,"y":35.3,"v":4},
{"x":-119.5,"y":35.1,"v":5},{"x":-119.3,"y":35.1,"v":7},{"x":-119.1,"y":35.1,"v":8},{"x":-118.9,"y":35.1,"v":7},{"x":-118.7,"y":35.1,"v":5},{"x":-118.5,"y":35.1,"v":4},{"x":-119.3,"y":34.9,"v":4},{"x":-119.1,"y":34.9,"v":5},{"x":-118.9,"y":34.9,"v":4}],
"d4":[{"x":-122.9,"y":38.9,"v":6},{"x":-122.7,"y":38.9,"v":7},{"x":-122.5,"y":38.9,"v":6},{"x":-122.3,"y":38.9,"v":6},{"x":-122.1,"y":38.9,"v":5},{"x":-121.9,"y":38.9,"v":5},{"x":-121.7,"y":38.9,"v":5},{"x":-121.5,"y":38.9,"v":6},{"x":-121.3,"y":38.9,"v":4},{"x":-121.1,"y":38.9,"v":3},
{"x":-122.9,"y":38.7,"v":6},{"x":-122.7,"y":38.7,"v":7},{"x":-122.5,"y":38.7,"v":6},{"x":-122.3,"y":38.7,"v":5},{"x":-122.1,"y":38.7,"v":5},{"x":-121.9,"y":38.7,"v":6},{"x":-121.7,"y":38.7,"v":6},{"x":-121.5,"y":38.7,"v":6},{"x":-121.3,"y":38.7,"v":6},{"x":-121.1,"y":38.7,"v":4},
{"x":-122.9,"y":38.5,"v":5},{"x":-122.7,"y":38.5,"v":6},{"x":-122.5,"y":38.5,"v":5},{"x":-122.3,"y":38.5,"v":5},{"x":-122.1,"y":38.5,"v":5},{"x":-121.9,"y":38.5,"v":6},{"x":-121.7,"y":38.5,"v":6},{"x":-121.5,"y":38.5,"v":7},{"x":-121.3,"y":38.5,"v":8},{"x":-121.1,"y":38.5,"v":5},{"x":-120.9,"y":38.5,"v":3},
{"x":-122.9,"y":38.3,"v":4},{"x":-122.7,"y":38.3,"v":5},{"x":-122.5,"y":38.3,"v":5},{"x":-122.3,"y":38.3,"v":5},{"x":-122.1,"y":38.3,"v":6},{"x":-121.9,"y":38.3,"v":7},{"x":-121.7,"y":38.3,"v":7},{"x":-121.5,"y":38.3,"v":9},{"x":-121.3,"y":38.3,"v":9},{"x":-121.1,"y":38.3,"v":8},{"x":-120.9,"y":38.3,"v":5},
{"x":-122.9,"y":38.1,"v":6},{"x":-122.7,"y":38.1,"v":6},{"x":-122.5,"y":38.1,"v":6},{"x":-122.3,"y":38.1,"v":7},{"x":-122.1,"y":38.1,"v":7},{"x":-121.9,"y":38.1,"v":8},{"x":-121.7,"y":38.1,"v":8},{"x":-121.5,"y":38.1,"v":10},{"x":-121.3,"y":38.1,"v":13},{"x":-121.1,"y":38.1,"v":11},{"x":-120.9,"y":38.1,"v":7},{"x":-120.7,"y":38.1,"v":4},
{"x":-122.9,"y":37.9,"v":8},{"x":-122.7,"y":37.9,"v":9},{"x":-122.5,"y":37.9,"v":9},{"x":-122.3,"y":37.9,"v":8},{"x":-122.1,"y":37.9,"v":7},{"x":-121.9,"y":37.9,"v":7},{"x":-121.7,"y":37.9,"v":7},{"x":-121.5,"y":37.9,"v":10},{"x":-121.3,"y":37.9,"v":16},{"x":-121.1,"y":37.9,"v":14},{"x":-120.9,"y":37.9,"v":10},{"x":-120.7,"y":37.9,"v":6},{"x":-120.5,"y":37.9,"v":4},
{"x":-122.9,"y":37.7,"v":6},{"x":-122.7,"y":37.7,"v":10},{"x":-122.5,"y":37.7,"v":11},{"x":-122.3,"y":37.7,"v":10},{"x":-122.1,"y":37.7,"v":7},{"x":-121.9,"y":37.7,"v":7},{"x":-121.7,"y":37.7,"v":7},{"x":-121.5,"y":37.7,"v":9},{"x":-121.3,"y":37.7,"v":22},{"x":-121.1,"y":37.7,"v":20},{"x":-120.9,"y":37.7,"v":13},{"x":-120.7,"y":37.7,"v":8},{"x":-120.5,"y":37.7,"v":5},
{"x":-122.7,"y":37.5,"v":7},{"x":-122.5,"y":37.5,"v":12},{"x":-122.3,"y":37.5,"v":11},{"x":-122.1,"y":37.5,"v":9},{"x":-121.9,"y":37.5,"v":8},{"x":-121.7,"y":37.5,"v":9},{"x":-121.5,"y":37.5,"v":11},{"x":-121.3,"y":37.5,"v":17},{"x":-121.1,"y":37.5,"v":29},{"x":-120.9,"y":37.5,"v":25},{"x":-120.7,"y":37.5,"v":12},{"x":-120.5,"y":37.5,"v":7},{"x":-120.3,"y":37.5,"v":5},{"x":-120.1,"y":37.5,"v":3},
{"x":-122.5,"y":37.3,"v":8},{"x":-122.3,"y":37.3,"v":13},{"x":-122.1,"y":37.3,"v":12},{"x":-121.9,"y":37.3,"v":10},{"x":-121.7,"y":37.3,"v":10},{"x":-121.5,"y":37.3,"v":12},{"x":-121.3,"y":37.3,"v":14},{"x":-121.1,"y":37.3,"v":16},{"x":-120.9,"y":37.3,"v":20},{"x":-120.7,"y":37.3,"v":20},{"x":-120.5,"y":37.3,"v":12},{"x":-120.3,"y":37.3,"v":8},{"x":-120.1,"y":37.3,"v":4},
{"x":-122.3,"y":37.1,"v":9},{"x":-122.1,"y":37.1,"v":14},{"x":-121.9,"y":37.1,"v":20},{"x":-121.7,"y":37.1,"v":10},{"x":-121.5,"y":37.1,"v":10},{"x":-121.3,"y":37.1,"v":10},{"x":-121.1,"y":37.1,"v":11},{"x":-120.9,"y":37.1,"v":13},{"x":-120.7,"y":37.1,"v":15},{"x":-120.5,"y":37.1,"v":15},{"x":-120.3,"y":37.1,"v":12},{"x":-120.1,"y":37.1,"v":9},{"x":-119.9,"y":37.1,"v":5},
{"x":-122.1,"y":36.9,"v":11},{"x":-121.9,"y":36.9,"v":22},{"x":-121.7,"y":36.9,"v":12},{"x":-121.5,"y":36.9,"v":8},{"x":-121.3,"y":36.9,"v":7},{"x":-121.1,"y":36.9,"v":8},{"x":-120.9,"y":36.9,"v":10},{"x":-120.7,"y":36.9,"v":12},{"x":-120.5,"y":36.9,"v":14},{"x":-120.3,"y":36.9,"v":15},{"x":-120.1,"y":36.9,"v":13},{"x":-119.9,"y":36.9,"v":8},{"x":-119.7,"y":36.9,"v":5},
{"x":-122.1,"y":36.7,"v":7},{"x":-121.9,"y":36.7,"v":13},{"x":-121.7,"y":36.7,"v":10},{"x":-121.5,"y":36.7,"v":7},{"x":-121.3,"y":36.7,"v":5},{"x":-121.1,"y":36.7,"v":6},{"x":-120.9,"y":36.7,"v":8},{"x":-120.7,"y":36.7,"v":9},{"x":-120.5,"y":36.7,"v":11},{"x":-120.3,"y":36.7,"v":12},{"x":-120.1,"y":36.7,"v":11},{"x":-119.9,"y":36.7,"v":9},{"x":-119.7,"y":36.7,"v":6},{"x":-119.5,"y":36.7,"v":4},
{"x":-121.7,"y":36.5,"v":5},{"x":-121.5,"y":36.5,"v":5},{"x":-121.3,"y":36.5,"v":5},{"x":-121.1,"y":36.5,"v":5},{"x":-120.9,"y":36.5,"v":6},{"x":-120.7,"y":36.5,"v":7},{"x":-120.5,"y":36.5,"v":9},{"x":-120.3,"y":36.5,"v":10},{"x":-120.1,"y":36.5,"v":11},{"x":-119.9,"y":36.5,"v":10},{"x":-119.7,"y":36.5,"v":7},{"x":-119.5,"y":36.5,"v":5},
{"x":-121.3,"y":36.3,"v":4},{"x":-121.1,"y":36.3,"v":4},{"x":-120.9,"y":36.3,"v":5},{"x":-120.7,"y":36.3,"v":6},{"x":-120.5,"y":36.3,"v":7},{"x":-120.3,"y":36.3,"v":8},{"x":-120.1,"y":36.3,"v":10},{"x":-119.9,"y":36.3,"v":10},{"x":-119.7,"y":36.3,"v":9},{"x":-119.5,"y":36.3,"v":6},{"x":-119.3,"y":36.3,"v":3},
{"x":-120.9,"y":36.1,"v":4},{"x":-120.7,"y":36.1,"v":5},{"x":-120.5,"y":36.1,"v":5},{"x":-120.3,"y":36.1,"v":6},{"x":-120.1,"y":36.1,"v":8},{"x":-119.9,"y":36.1,"v":11},{"x":-119.7,"y":36.1,"v":12},{"x":-119.5,"y":36.1,"v":8},{"x":-119.3,"y":36.1,"v":4},
{"x":-120.7,"y":35.9,"v":4},{"x":-120.5,"y":35.9,"v":4},{"x":-120.3,"y":35.9,"v":5},{"x":-120.1,"y":35.9,"v":6},{"x":-119.9,"y":35.9,"v":8},{"x":-119.7,"y":35.9,"v":10},{"x":-119.5,"y":35.9,"v":7},{"x":-119.3,"y":35.9,"v":4},
{"x":-120.5,"y":35.7,"v":4},{"x":-120.3,"y":35.7,"v":4},{"x":-120.1,"y":35.7,"v":4},{"x":-119.9,"y":35.7,"v":6},{"x":-119.7,"y":35.7,"v":7},{"x":-119.5,"y":35.7,"v":8},{"x":-119.3,"y":35.7,"v":6},{"x":-119.1,"y":35.7,"v":4},
{"x":-120.1,"y":35.5,"v":4},{"x":-119.9,"y":35.5,"v":5},{"x":-119.7,"y":35.5,"v":6},{"x":-119.5,"y":35.5,"v":7},{"x":-119.3,"y":35.5,"v":6},{"x":-119.1,"y":35.5,"v":5},
{"x":-119.7,"y":35.3,"v":4},{"x":-119.5,"y":35.3,"v":5},{"x":-119.3,"y":35.3,"v":5},{"x":-119.1,"y":35.3,"v":5},{"x":-118.9,"y":35.3,"v":3},{"x":-119.5,"y":35.1,"v":3},{"x":-119.3,"y":35.1,"v":4}],
"d5":[{"x":-122.9,"y":38.9,"v":8},{"x":-122.7,"y":38.9,"v":7},{"x":-122.5,"y":38.9,"v":5},{"x":-122.3,"y":38.9,"v":5},{"x":-122.1,"y":38.9,"v":5},{"x":-121.9,"y":38.9,"v":4},{"x":-121.7,"y":38.9,"v":6},{"x":-121.5,"y":38.9,"v":7},{"x":-121.3,"y":38.9,"v":4},{"x":-121.1,"y":38.9,"v":3},{"x":-120.9,"y":38.9,"v":3},
{"x":-122.9,"y":38.7,"v":8},{"x":-122.7,"y":38.7,"v":7},{"x":-122.5,"y":38.7,"v":6},{"x":-122.3,"y":38.7,"v":5},{"x":-122.1,"y":38.7,"v":5},{"x":-121.9,"y":38.7,"v":6},{"x":-121.7,"y":38.7,"v":9},{"x":-121.5,"y":38.7,"v":9},{"x":-121.3,"y":38.7,"v":5},{"x":-120.9,"y":38.7,"v":4},
{"x":-122.9,"y":38.5,"v":7},{"x":-122.7,"y":38.5,"v":7},{"x":-122.5,"y":38.5,"v":6},{"x":-122.3,"y":38.5,"v":6},{"x":-122.1,"y":38.5,"v":7},{"x":-121.9,"y":38.5,"v":8},{"x":-121.7,"y":38.5,"v":13},{"x":-121.5,"y":38.5,"v":11},{"x":-121.3,"y":38.5,"v":8},{"x":-121.1,"y":38.5,"v":5},{"x":-120.9,"y":38.5,"v":3},
{"x":-122.9,"y":38.3,"v":5},{"x":-122.7,"y":38.3,"v":6},{"x":-122.5,"y":38.3,"v":6},{"x":-122.3,"y":38.3,"v":6},{"x":-122.1,"y":38.3,"v":8},{"x":-121.9,"y":38.3,"v":11},{"x":-121.7,"y":38.3,"v":18},{"x":-121.5,"y":38.3,"v":14},{"x":-121.3,"y":38.3,"v":11},{"x":-121.1,"y":38.3,"v":7},{"x":-120.9,"y":38.3,"v":4},
{"x":-122.9,"y":38.1,"v":8},{"x":-122.7,"y":38.1,"v":8},{"x":-122.5,"y":38.1,"v":8},{"x":-122.3,"y":38.1,"v":8},{"x":-122.1,"y":38.1,"v":9},{"x":-121.9,"y":38.1,"v":11},{"x":-121.7,"y":38.1,"v":14},{"x":-121.5,"y":38.1,"v":14},{"x":-121.3,"y":38.1,"v":16},{"x":-121.1,"y":38.1,"v":13},{"x":-120.9,"y":38.1,"v":7},{"x":-120.7,"y":38.1,"v":4},
{"x":-122.9,"y":37.9,"v":11},{"x":-122.7,"y":37.9,"v":12},{"x":-122.5,"y":37.9,"v":11},{"x":-122.3,"y":37.9,"v":9},{"x":-122.1,"y":37.9,"v":9},{"x":-121.9,"y":37.9,"v":9},{"x":-121.7,"y":37.9,"v":10},{"x":-121.5,"y":37.9,"v":13},{"x":-121.3,"y":37.9,"v":18},{"x":-121.1,"y":37.9,"v":15},{"x":-120.9,"y":37.9,"v":9},{"x":-120.7,"y":37.9,"v":5},
{"x":-122.9,"y":37.7,"v":7},{"x":-122.7,"y":37.7,"v":11},{"x":-122.5,"y":37.7,"v":12},{"x":-122.3,"y":37.7,"v":11},{"x":-122.1,"y":37.7,"v":10},{"x":-121.9,"y":37.7,"v":10},{"x":-121.7,"y":37.7,"v":10},{"x":-121.5,"y":37.7,"v":14},{"x":-121.3,"y":37.7,"v":24},{"x":-121.1,"y":37.7,"v":24},{"x":-120.9,"y":37.7,"v":14},{"x":-120.7,"y":37.7,"v":7},{"x":-120.5,"y":37.7,"v":4},
{"x":-122.7,"y":37.5,"v":8},{"x":-122.5,"y":37.5,"v":12},{"x":-122.3,"y":37.5,"v":12},{"x":-122.1,"y":37.5,"v":11},{"x":-121.9,"y":37.5,"v":11},{"x":-121.7,"y":37.5,"v":11},{"x":-121.5,"y":37.5,"v":14},{"x":-121.3,"y":37.5,"v":25},{"x":-121.1,"y":37.5,"v":36},{"x":-120.9,"y":37.5,"v":33},{"x":-120.7,"y":37.5,"v":18},{"x":-120.5,"y":37.5,"v":9},{"x":-120.3,"y":37.5,"v":5},
{"x":-122.5,"y":37.3,"v":9},{"x":-122.3,"y":37.3,"v":13},{"x":-122.1,"y":37.3,"v":13},{"x":-121.9,"y":37.3,"v":12},{"x":-121.7,"y":37.3,"v":13},{"x":-121.5,"y":37.3,"v":15},{"x":-121.3,"y":37.3,"v":19},{"x":-121.1,"y":37.3,"v":24},{"x":-120.9,"y":37.3,"v":31},{"x":-120.7,"y":37.3,"v":26},{"x":-120.5,"y":37.3,"v":14},{"x":-120.3,"y":37.3,"v":8},{"x":-120.1,"y":37.3,"v":4},
{"x":-122.3,"y":37.1,"v":10},{"x":-122.1,"y":37.1,"v":13},{"x":-121.9,"y":37.1,"v":15},{"x":-121.7,"y":37.1,"v":14},{"x":-121.5,"y":37.1,"v":14},{"x":-121.3,"y":37.1,"v":14},{"x":-121.1,"y":37.1,"v":15},{"x":-120.9,"y":37.1,"v":18},{"x":-120.7,"y":37.1,"v":20},{"x":-120.5,"y":37.1,"v":18},{"x":-120.3,"y":37.1,"v":18},{"x":-120.1,"y":37.1,"v":12},{"x":-119.9,"y":37.1,"v":6},
{"x":-122.1,"y":36.9,"v":12},{"x":-121.9,"y":36.9,"v":13},{"x":-121.7,"y":36.9,"v":11},{"x":-121.5,"y":36.9,"v":10},{"x":-121.3,"y":36.9,"v":10},{"x":-121.1,"y":36.9,"v":11},{"x":-120.9,"y":36.9,"v":14},{"x":-120.7,"y":36.9,"v":19},{"x":-120.5,"y":36.9,"v":18},{"x":-120.3,"y":36.9,"v":20},{"x":-120.1,"y":36.9,"v":16},{"x":-119.9,"y":36.9,"v":11},{"x":-119.7,"y":36.9,"v":5},
{"x":-122.1,"y":36.7,"v":7},{"x":-121.9,"y":36.7,"v":8},{"x":-121.7,"y":36.7,"v":7},{"x":-121.5,"y":36.7,"v":6},{"x":-121.3,"y":36.7,"v":7},{"x":-121.1,"y":36.7,"v":8},{"x":-120.9,"y":36.7,"v":11},{"x":-120.7,"y":36.7,"v":14},{"x":-120.5,"y":36.7,"v":22},{"x":-120.3,"y":36.7,"v":16},{"x":-120.1,"y":36.7,"v":14},{"x":-119.9,"y":36.7,"v":12},{"x":-119.7,"y":36.7,"v":8},{"x":-119.5,"y":36.7,"v":4},
{"x":-121.7,"y":36.5,"v":5},{"x":-121.5,"y":36.5,"v":5},{"x":-121.3,"y":36.5,"v":5},{"x":-121.1,"y":36.5,"v":6},{"x":-120.9,"y":36.5,"v":7},{"x":-120.7,"y":36.5,"v":10},{"x":-120.5,"y":36.5,"v":13},{"x":-120.3,"y":36.5,"v":14},{"x":-120.1,"y":36.5,"v":13},{"x":-119.9,"y":36.5,"v":12},{"x":-119.7,"y":36.5,"v":9},{"x":-119.5,"y":36.5,"v":6},{"x":-119.3,"y":36.5,"v":3},
{"x":-121.3,"y":36.3,"v":4},{"x":-121.1,"y":36.3,"v":4},{"x":-120.9,"y":36.3,"v":6},{"x":-120.7,"y":36.3,"v":7},{"x":-120.5,"y":36.3,"v":10},{"x":-120.3,"y":36.3,"v":12},{"x":-120.1,"y":36.3,"v":14},{"x":-119.9,"y":36.3,"v":13},{"x":-119.7,"y":36.3,"v":11},{"x":-119.5,"y":36.3,"v":7},{"x":-119.3,"y":36.3,"v":5},{"x":-119.1,"y":36.3,"v":3},
{"x":-120.9,"y":36.1,"v":4},{"x":-120.7,"y":36.1,"v":5},{"x":-120.5,"y":36.1,"v":6},{"x":-120.3,"y":36.1,"v":8},{"x":-120.1,"y":36.1,"v":12},{"x":-119.9,"y":36.1,"v":15},{"x":-119.7,"y":36.1,"v":13},{"x":-119.5,"y":36.1,"v":9},{"x":-119.3,"y":36.1,"v":6},{"x":-119.1,"y":36.1,"v":4},
{"x":-120.7,"y":35.9,"v":3},{"x":-120.5,"y":35.9,"v":4},{"x":-120.3,"y":35.9,"v":6},{"x":-120.1,"y":35.9,"v":8},{"x":-119.9,"y":35.9,"v":11},{"x":-119.7,"y":35.9,"v":13},{"x":-119.5,"y":35.9,"v":12},{"x":-119.3,"y":35.9,"v":8},{"x":-119.1,"y":35.9,"v":5},
{"x":-120.3,"y":35.7,"v":4},{"x":-120.1,"y":35.7,"v":6},{"x":-119.9,"y":35.7,"v":8},{"x":-119.7,"y":35.7,"v":9},{"x":-119.5,"y":35.7,"v":11},{"x":-119.3,"y":35.7,"v":9},{"x":-119.1,"y":35.7,"v":6},
{"x":-120.1,"y":35.5,"v":4},{"x":-119.9,"y":35.5,"v":6},{"x":-119.7,"y":35.5,"v":7},{"x":-119.5,"y":35.5,"v":8},{"x":-119.3,"y":35.5,"v":7},{"x":-119.1,"y":35.5,"v":6},{"x":-118.9,"y":35.5,"v":4},
{"x":-119.7,"y":35.3,"v":5},{"x":-119.5,"y":35.3,"v":6},{"x":-119.3,"y":35.3,"v":6},{"x":-119.1,"y":35.3,"v":6},{"x":-118.9,"y":35.3,"v":4},{"x":-119.5,"y":35.1,"v":4},{"x":-119.3,"y":35.1,"v":5},{"x":-119.1,"y":35.1,"v":4}],
"d6":[{"x":-122.9,"y":38.9,"v":9},{"x":-122.7,"y":38.9,"v":10},{"x":-122.5,"y":38.9,"v":8},{"x":-122.3,"y":38.9,"v":7},{"x":-122.1,"y":38.9,"v":6},{"x":-121.9,"y":38.9,"v":6},{"x":-121.7,"y":38.9,"v":6},{"x":-121.5,"y":38.9,"v":8},{"x":-121.3,"y":38.9,"v":5},{"x":-121.1,"y":38.9,"v":4},{"x":-120.9,"y":38.9,"v":3},
{"x":-122.9,"y":38.7,"v":10},{"x":-122.7,"y":38.7,"v":11},{"x":-122.5,"y":38.7,"v":10},{"x":-122.3,"y":38.7,"v":7},{"x":-122.1,"y":38.7,"v":7},{"x":-121.9,"y":38.7,"v":7},{"x":-121.7,"y":38.7,"v":9},{"x":-121.5,"y":38.7,"v":9},{"x":-121.3,"y":38.7,"v":6},{"x":-121.1,"y":38.7,"v":5},{"x":-120.9,"y":38.7,"v":4},
{"x":-122.9,"y":38.5,"v":8},{"x":-122.7,"y":38.5,"v":10},{"x":-122.5,"y":38.5,"v":9},{"x":-122.3,"y":38.5,"v":8},{"x":-122.1,"y":38.5,"v":9},{"x":-121.9,"y":38.5,"v":9},{"x":-121.7,"y":38.5,"v":11},{"x":-121.5,"y":38.5,"v":10},{"x":-121.3,"y":38.5,"v":8},{"x":-121.1,"y":38.5,"v":6},{"x":-120.9,"y":38.5,"v":4},
{"x":-122.9,"y":38.3,"v":6},{"x":-122.7,"y":38.3,"v":8},{"x":-122.5,"y":38.3,"v":9},{"x":-122.3,"y":38.3,"v":8},{"x":-122.1,"y":38.3,"v":10},{"x":-121.9,"y":38.3,"v":12},{"x":-121.7,"y":38.3,"v":12},{"x":-121.5,"y":38.3,"v":11},{"x":-121.3,"y":38.3,"v":9},{"x":-121.1,"y":38.3,"v":7},{"x":-120.9,"y":38.3,"v":5},
{"x":-122.9,"y":38.1,"v":8},{"x":-122.7,"y":38.1,"v":9},{"x":-122.5,"y":38.1,"v":9},{"x":-122.3,"y":38.1,"v":9},{"x":-122.1,"y":38.1,"v":10},{"x":-121.9,"y":38.1,"v":11},{"x":-121.7,"y":38.1,"v":12},{"x":-121.5,"y":38.1,"v":13},{"x":-121.3,"y":38.1,"v":13},{"x":-121.1,"y":38.1,"v":11},{"x":-120.9,"y":38.1,"v":7},{"x":-120.7,"y":38.1,"v":4},
{"x":-122.9,"y":37.9,"v":11},{"x":-122.7,"y":37.9,"v":11},{"x":-122.5,"y":37.9,"v":10},{"x":-122.3,"y":37.9,"v":9},{"x":-122.1,"y":37.9,"v":9},{"x":-121.9,"y":37.9,"v":9},{"x":-121.7,"y":37.9,"v":10},{"x":-121.5,"y":37.9,"v":14},{"x":-121.3,"y":37.9,"v":18},{"x":-121.1,"y":37.9,"v":14},{"x":-120.9,"y":37.9,"v":9},{"x":-120.7,"y":37.9,"v":5},
{"x":-122.9,"y":37.7,"v":8},{"x":-122.7,"y":37.7,"v":11},{"x":-122.5,"y":37.7,"v":11},{"x":-122.3,"y":37.7,"v":10},{"x":-122.1,"y":37.7,"v":9},{"x":-121.9,"y":37.7,"v":10},{"x":-121.7,"y":37.7,"v":11},{"x":-121.5,"y":37.7,"v":16},{"x":-121.3,"y":37.7,"v":29},{"x":-121.1,"y":37.7,"v":26},{"x":-120.9,"y":37.7,"v":15},{"x":-120.7,"y":37.7,"v":8},{"x":-120.5,"y":37.7,"v":4},
{"x":-122.7,"y":37.5,"v":8},{"x":-122.5,"y":37.5,"v":12},{"x":-122.3,"y":37.5,"v":12},{"x":-122.1,"y":37.5,"v":10},{"x":-121.9,"y":37.5,"v":11},{"x":-121.7,"y":37.5,"v":13},{"x":-121.5,"y":37.5,"v":18},{"x":-121.3,"y":37.5,"v":31},{"x":-121.1,"y":37.5,"v":38},{"x":-120.9,"y":37.5,"v":32},{"x":-120.7,"y":37.5,"v":17},{"x":-120.5,"y":37.5,"v":9},{"x":-120.3,"y":37.5,"v":5},
{"x":-122.5,"y":37.3,"v":9},{"x":-122.3,"y":37.3,"v":13},{"x":-122.1,"y":37.3,"v":13},{"x":-121.9,"y":37.3,"v":12},{"x":-121.7,"y":37.3,"v":14},{"x":-121.5,"y":37.3,"v":17},{"x":-121.3,"y":37.3,"v":17},{"x":-121.1,"y":37.3,"v":21},{"x":-120.9,"y":37.3,"v":28},{"x":-120.7,"y":37.3,"v":24},{"x":-120.5,"y":37.3,"v":13},{"x":-120.3,"y":37.3,"v":8},{"x":-120.1,"y":37.3,"v":4},
{"x":-122.3,"y":37.1,"v":10},{"x":-122.1,"y":37.1,"v":13},{"x":-121.9,"y":37.1,"v":13},{"x":-121.7,"y":37.1,"v":15},{"x":-121.5,"y":37.1,"v":17},{"x":-121.3,"y":37.1,"v":15},{"x":-121.1,"y":37.1,"v":15},{"x":-120.9,"y":37.1,"v":16},{"x":-120.7,"y":37.1,"v":17},{"x":-120.5,"y":37.1,"v":18},{"x":-120.3,"y":37.1,"v":18},{"x":-120.1,"y":37.1,"v":12},{"x":-119.9,"y":37.1,"v":6},
{"x":-122.1,"y":36.9,"v":12},{"x":-121.9,"y":36.9,"v":13},{"x":-121.7,"y":36.9,"v":11},{"x":-121.5,"y":36.9,"v":10},{"x":-121.3,"y":36.9,"v":10},{"x":-121.1,"y":36.9,"v":11},{"x":-120.9,"y":36.9,"v":15},{"x":-120.7,"y":36.9,"v":18},{"x":-120.5,"y":36.9,"v":18},{"x":-120.3,"y":36.9,"v":19},{"x":-120.1,"y":36.9,"v":16},{"x":-119.9,"y":36.9,"v":12},{"x":-119.7,"y":36.9,"v":5},
{"x":-122.1,"y":36.7,"v":7},{"x":-121.9,"y":36.7,"v":9},{"x":-121.7,"y":36.7,"v":7},{"x":-121.5,"y":36.7,"v":6},{"x":-121.3,"y":36.7,"v":6},{"x":-121.1,"y":36.7,"v":8},{"x":-120.9,"y":36.7,"v":11},{"x":-120.7,"y":36.7,"v":14},{"x":-120.5,"y":36.7,"v":18},{"x":-120.3,"y":36.7,"v":19},{"x":-120.1,"y":36.7,"v":17},{"x":-119.9,"y":36.7,"v":14},{"x":-119.7,"y":36.7,"v":9},{"x":-119.5,"y":36.7,"v":5},
{"x":-121.7,"y":36.5,"v":5},{"x":-121.5,"y":36.5,"v":5},{"x":-121.3,"y":36.5,"v":5},{"x":-121.1,"y":36.5,"v":5},{"x":-120.9,"y":36.5,"v":7},{"x":-120.7,"y":36.5,"v":9},{"x":-120.5,"y":36.5,"v":12},{"x":-120.3,"y":36.5,"v":15},{"x":-120.1,"y":36.5,"v":16},{"x":-119.9,"y":36.5,"v":17},{"x":-119.7,"y":36.5,"v":12},{"x":-119.5,"y":36.5,"v":7},{"x":-119.3,"y":36.5,"v":4},
{"x":-121.3,"y":36.3,"v":4},{"x":-121.1,"y":36.3,"v":4},{"x":-120.9,"y":36.3,"v":5},{"x":-120.7,"y":36.3,"v":7},{"x":-120.5,"y":36.3,"v":9},{"x":-120.3,"y":36.3,"v":12},{"x":-120.1,"y":36.3,"v":16},{"x":-119.9,"y":36.3,"v":20},{"x":-119.7,"y":36.3,"v":17},{"x":-119.5,"y":36.3,"v":9},{"x":-119.3,"y":36.3,"v":5},
{"x":-120.9,"y":36.1,"v":3},{"x":-120.7,"y":36.1,"v":4},{"x":-120.5,"y":36.1,"v":6},{"x":-120.3,"y":36.1,"v":8},{"x":-120.1,"y":36.1,"v":12},{"x":-119.9,"y":36.1,"v":16},{"x":-119.7,"y":36.1,"v":16},{"x":-119.5,"y":36.1,"v":11},{"x":-119.3,"y":36.1,"v":5},
{"x":-120.5,"y":35.9,"v":4},{"x":-120.3,"y":35.9,"v":6},{"x":-120.1,"y":35.9,"v":8},{"x":-119.9,"y":35.9,"v":11},{"x":-119.7,"y":35.9,"v":13},{"x":-119.5,"y":35.9,"v":13},{"x":-119.3,"y":35.9,"v":8},{"x":-119.1,"y":35.9,"v":4},
{"x":-120.3,"y":35.7,"v":4},{"x":-120.1,"y":35.7,"v":6},{"x":-119.9,"y":35.7,"v":8},{"x":-119.7,"y":35.7,"v":10},{"x":-119.5,"y":35.7,"v":11},{"x":-119.3,"y":35.7,"v":10},{"x":-119.1,"y":35.7,"v":6},
{"x":-120.1,"y":35.5,"v":4},{"x":-119.9,"y":35.5,"v":6},{"x":-119.7,"y":35.5,"v":8},{"x":-119.5,"y":35.5,"v":9},{"x":-119.3,"y":35.5,"v":9},{"x":-119.1,"y":35.5,"v":7},{"x":-118.9,"y":35.5,"v":4},
{"x":-119.7,"y":35.3,"v":5},{"x":-119.5,"y":35.3,"v":7},{"x":-119.3,"y":35.3,"v":7},{"x":-119.1,"y":35.3,"v":6},{"x":-118.9,"y":35.3,"v":4},{"x":-119.5,"y":35.1,"v":4},{"x":-119.3,"y":35.1,"v":5},{"x":-119.1,"y":35.1,"v":5},{"x":-118.9,"y":35.1,"v":3}],
"cb60":[{"a":0,"b":2,"v":1},{"a":2,"b":4,"v":3},{"a":4,"b":6,"v":5},{"a":6,"b":8,"v":7},{"a":8,"b":10,"v":9},{"a":10,"b":12,"v":11},{"a":12,"b":14,"v":13},{"a":14,"b":16,"v":15},{"a":16,"b":18,"v":17},{"a":18,"b":20,"v":19},{"a":20,"b":22,"v":21},{"a":22,"b":24,"v":23},{"a":24,"b":26,"v":25},{"a":26,"b":28,"v":27},{"a":28,"b":30,"v":29},{"a":30,"b":32,"v":31},{"a":32,"b":34,"v":33},{"a":34,"b":36,"v":35},{"a":36,"b":38,"v":37},{"a":38,"b":40,"v":39},{"a":40,"b":42,"v":41},{"a":42,"b":44,"v":43},{"a":44,"b":46,"v":45},{"a":46,"b":48,"v":47},{"a":48,"b":50,"v":49},{"a":50,"b":52,"v":51},{"a":52,"b":54,"v":53},{"a":54,"b":56,"v":55},{"a":56,"b":58,"v":57},{"a":58,"b":60,"v":59}],
"cb40":[{"a":0,"b":1.5,"v":0.7},{"a":1.5,"b":3,"v":2.2},{"a":3,"b":4.5,"v":3.7},{"a":4.5,"b":6,"v":5.2},{"a":6,"b":7.5,"v":6.7},{"a":7.5,"b":9,"v":8.2},{"a":9,"b":10.5,"v":9.7},{"a":10.5,"b":12,"v":11.2},{"a":12,"b":13.5,"v":12.7},{"a":13.5,"b":15,"v":14.2},{"a":15,"b":16.5,"v":15.7},{"a":16.5,"b":18,"v":17.2},{"a":18,"b":19.5,"v":18.7},{"a":19.5,"b":21,"v":20.2},{"a":21,"b":22.5,"v":21.7},{"a":22.5,"b":24,"v":23.2},{"a":24,"b":25.5,"v":24.7},{"a":25.5,"b":27,"v":26.2},{"a":27,"b":28.5,"v":27.7},{"a":28.5,"b":30,"v":29.2},{"a":30,"b":31.5,"v":30.7},{"a":31.5,"b":33,"v":32.2},{"a":33,"b":34.5,"v":33.7},{"a":34.5,"b":36,"v":35.2},{"a":36,"b":37.5,"v":36.7},{"a":37.5,"b":40,"v":38.7}],
"black":[{"s":"b1","lon":-119.85,"lat":38.89},{"s":"b1","lon":-117,"lat":36.85},
{"s":"b2","lon":-122.98,"lat":38.29},{"s":"b2","lon":-122.94,"lat":38.03},{"s":"b2","lon":-122.64,"lat":37.95},{"s":"b2","lon":-122.52,"lat":37.84},{"s":"b2","lon":-122.43,"lat":37.58},{"s":"b2","lon":-122.46,"lat":37.31},{"s":"b2","lon":-122.26,"lat":37.05},{"s":"b2","lon":-121.88,"lat":36.94},{"s":"b2","lon":-121.8,"lat":36.79},{"s":"b2","lon":-121.84,"lat":36.64},{"s":"b2","lon":-121.94,"lat":36.56},{"s":"b2","lon":-121.88,"lat":36.34},{"s":"b2","lon":-121.54,"lat":36.08},{"s":"b2","lon":-121.37,"lat":35.85},{"s":"b2","lon":-121.16,"lat":35.74},{"s":"b2","lon":-120.91,"lat":35.44},{"s":"b2","lon":-120.86,"lat":35.25},{"s":"b2","lon":-120.65,"lat":35.1},{"s":"b2","lon":-120.61,"lat":34.69},{"s":"b2","lon":-120.48,"lat":34.46},{"s":"b2","lon":-120.1,"lat":34.49},{"s":"b2","lon":-119.59,"lat":34.43},{"s":"b2","lon":-119.34,"lat":34.31},{"s":"b2","lon":-119.17,"lat":34.13},{"s":"b2","lon":-118.92,"lat":34.05},{"s":"b2","lon":-118.49,"lat":34.03},
{"s":"b3","lon":-122.47,"lat":38.03},{"s":"b3","lon":-122.34,"lat":38.12},{"s":"b3","lon":-122.26,"lat":38.03},{"s":"b3","lon":-122.34,"lat":37.95},{"s":"b3","lon":-122.46,"lat":37.99},{"s":"b3","lon":-122.47,"lat":38.03},
{"s":"b4","lon":-122.41,"lat":37.91},{"s":"b4","lon":-122.35,"lat":37.76},{"s":"b4","lon":-122.12,"lat":37.58},{"s":"b4","lon":-122.09,"lat":37.48},{"s":"b4","lon":-122.26,"lat":37.58},{"s":"b4","lon":-122.35,"lat":37.69},{"s":"b4","lon":-122.41,"lat":37.84},
{"s":"b5","lon":-120.44,"lat":34.05},{"s":"b5","lon":-120.27,"lat":34.01},{"s":"b5","lon":-119.93,"lat":34.03},{"s":"b5","lon":-119.59,"lat":34.01},{"s":"b5","lon":-119.34,"lat":34.01}],
"gray":[{"s":"g1","lon":-122.41,"lat":39},{"s":"g1","lon":-122.37,"lat":38.87},{"s":"g1","lon":-122.22,"lat":38.74},{"s":"g1","lon":-122.12,"lat":38.48},{"s":"g1","lon":-122.09,"lat":38.36},{"s":"g1","lon":-122.15,"lat":38.2},{"s":"g1","lon":-122.26,"lat":38.1},{"s":"g1","lon":-122.12,"lat":38.06},{"s":"g1","lon":-121.8,"lat":38.14},{"s":"g1","lon":-121.63,"lat":38.2},{"s":"g1","lon":-121.56,"lat":38.25},{"s":"g1","lon":-121.42,"lat":38.25},{"s":"g1","lon":-121.08,"lat":38.3},
{"s":"g2","lon":-122.37,"lat":38.87},{"s":"g2","lon":-121.8,"lat":38.87},{"s":"g2","lon":-121.69,"lat":38.66},{"s":"g2","lon":-121.54,"lat":38.55},{"s":"g2","lon":-121.5,"lat":38.48},{"s":"g2","lon":-121.56,"lat":38.25},
{"s":"g3","lon":-122.12,"lat":38.4},{"s":"g3","lon":-121.75,"lat":38.45},{"s":"g3","lon":-121.63,"lat":38.5},{"s":"g3","lon":-121.58,"lat":38.36},{"s":"g3","lon":-121.56,"lat":38.25},
{"s":"g4","lon":-121.8,"lat":39},{"s":"g4","lon":-121.69,"lat":38.85},{"s":"g4","lon":-121.46,"lat":38.66},{"s":"g4","lon":-121.08,"lat":38.63},{"s":"g4","lon":-121.08,"lat":38.3},{"s":"g4","lon":-120.91,"lat":37.91},{"s":"g4","lon":-120.8,"lat":37.76},{"s":"g4","lon":-120.4,"lat":37.52},{"s":"g4","lon":-120.19,"lat":37.2},{"s":"g4","lon":-120.02,"lat":37.2},{"s":"g4","lon":-119.51,"lat":37.69},{"s":"g4","lon":-119.3,"lat":37.78},{"s":"g4","lon":-119.04,"lat":37.58},{"s":"g4","lon":-119.25,"lat":37.39},{"s":"g4","lon":-119.34,"lat":37.24},{"s":"g4","lon":-119.72,"lat":37.05},{"s":"g4","lon":-119.89,"lat":36.94},{"s":"g4","lon":-120.19,"lat":36.79},{"s":"g4","lon":-120.36,"lat":36.75},{"s":"g4","lon":-120.48,"lat":36.94},{"s":"g4","lon":-120.44,"lat":37.05},{"s":"g4","lon":-120.14,"lat":37.13},{"s":"g4","lon":-120.91,"lat":36.73},
{"s":"g5","lon":-121.42,"lat":39},{"s":"g5","lon":-121.46,"lat":38.66},
{"s":"g6","lon":-121.54,"lat":38.21},{"s":"g6","lon":-121.5,"lat":37.91},{"s":"g6","lon":-121.42,"lat":37.5},{"s":"g6","lon":-121.54,"lat":37.39},{"s":"g6","lon":-121.37,"lat":37.2},{"s":"g6","lon":-121.25,"lat":37.01},{"s":"g6","lon":-120.91,"lat":36.73},{"s":"g6","lon":-120.61,"lat":36.53},{"s":"g6","lon":-120.57,"lat":36.34},{"s":"g6","lon":-120.69,"lat":36.19},{"s":"g6","lon":-120.44,"lat":35.93},{"s":"g6","lon":-120.27,"lat":35.83},
{"s":"g7","lon":-121.42,"lat":37.5},{"s":"g7","lon":-121.08,"lat":37.69},{"s":"g7","lon":-120.8,"lat":37.76},
{"s":"g8","lon":-121.42,"lat":37.2},{"s":"g8","lon":-121.16,"lat":37.35},{"s":"g8","lon":-120.95,"lat":37.43},{"s":"g8","lon":-120.4,"lat":37.52},
{"s":"g9","lon":-121.16,"lat":37.35},{"s":"g9","lon":-121.25,"lat":37.01},
{"s":"g10","lon":-120.27,"lat":35.85},{"s":"g10","lon":-119.93,"lat":36.15},{"s":"g10","lon":-119.97,"lat":36.41},{"s":"g10","lon":-119.59,"lat":36.49},{"s":"g10","lon":-119.38,"lat":36.64},{"s":"g10","lon":-118.96,"lat":36.7},{"s":"g10","lon":-118.41,"lat":36.75},{"s":"g10","lon":-118.15,"lat":36.26},{"s":"g10","lon":-117.98,"lat":35.83},
{"s":"g11","lon":-119.55,"lat":36.49},{"s":"g11","lon":-119.53,"lat":35.81},
{"s":"g12","lon":-120.27,"lat":35.83},{"s":"g12","lon":-117.6,"lat":35.81},{"s":"g12","lon":-117.6,"lat":34.82},{"s":"g12","lon":-119.25,"lat":34.82},{"s":"g12","lon":-119.47,"lat":34.99},{"s":"g12","lon":-119.85,"lat":35.29},{"s":"g12","lon":-120.19,"lat":35.66},{"s":"g12","lon":-120.27,"lat":35.83},
{"s":"g13","lon":-119.04,"lat":37.58},{"s":"g13","lon":-118.75,"lat":37.39},{"s":"g13","lon":-118.66,"lat":37.2},{"s":"g13","lon":-118.41,"lat":37.05},{"s":"g13","lon":-118.36,"lat":36.79},{"s":"g13","lon":-118.41,"lat":36.75},
{"s":"g14","lon":-121.08,"lat":38.63},{"s":"g14","lon":-121.03,"lat":38.81},{"s":"g14","lon":-120.78,"lat":38.96},{"s":"g14","lon":-120.53,"lat":38.89},{"s":"g14","lon":-120.36,"lat":39},{"s":"g14","lon":-120.02,"lat":38.98},{"s":"g14","lon":-119.87,"lat":38.83},{"s":"g14","lon":-120.14,"lat":38.63},{"s":"g14","lon":-120.36,"lat":38.55},{"s":"g14","lon":-120.78,"lat":38.55},{"s":"g14","lon":-121.08,"lat":38.63}]},
"resolve":{"scale":{"color":"independent"}},
"vconcat":[{"resolve":{"scale":{"color":"independent"}},"hconcat":[
{"hconcat":[{"width":236,"height":222,"title":"May: wrf1","layer":[{"data":{"name":"d1"},"mark":{"type":"rect","width":8.2,"height":9.2,"clip":true},"encoding":{"x":{"field":"x","type":"quantitative","scale":{"domain":[-123,-117],"nice":false},"axis":{"values":[-122,-120,-118],"labelExpr":"''+datum.value","labelPadding":8}},"y":{"field":"y","type":"quantitative","scale":{"domain":[34,39],"nice":false},"axis":{"values":[34,35,36,37,38,39],"labelPadding":10}},"color":{"field":"v","type":"quantitative","legend":null,"scale":{"domain":[0,7,15,20,29,38.4,46,52,60],"range":["#03209b","#0028ff","#00a8ff","#00ffff","#00ff90","#ffff00","#ff8000","#ff0000","#a00000"]}}}},{"data":{"name":"gray"},"mark":{"type":"line","clip":true,"color":"#c8c8c8","strokeWidth":3.4},"encoding":{"x":{"field":"lon","type":"quantitative"},"y":{"field":"lat","type":"quantitative"},"detail":{"field":"s"},"order":{"value":null}}},{"data":{"name":"black"},"mark":{"type":"line","clip":true,"color":"#000000","strokeWidth":1.5},"encoding":{"x":{"field":"lon","type":"quantitative"},"y":{"field":"lat","type":"quantitative"},"detail":{"field":"s"},"order":{"value":null}}}]},{"width":29,"height":222,"data":{"name":"cb60"},"mark":"rect","encoding":{"x":{"datum":0,"scale":{"domain":[0,1]},"axis":{"labels":false,"title":"s m² /kg","titleFontSize":25,"titleFontWeight":"normal","titleColor":"#222222","titleX":33,"titleY":9}},"x2":{"datum":1},"y":{"field":"a","type":"quantitative","scale":{"domain":[0,60],"nice":false},"axis":{"orient":"right","values":[0,20,40,60],"ticks":true,"tickSize":-3,"tickColor":"#404040","labelPadding":12}},"y2":{"field":"b"},"color":{"field":"v","type":"quantitative","legend":null,"scale":{"domain":[0,7,15,20,29,38.4,46,52,60],"range":["#03209b","#0028ff","#00a8ff","#00ffff","#00ff90","#ffff00","#ff8000","#ff0000","#a00000"]}}}}],"spacing":18,"bounds":"flush"},
{"hconcat":[{"width":236,"height":222,"title":"May: wrf2","layer":[{"data":{"name":"d2"},"mark":{"type":"rect","width":8.2,"height":9.2,"clip":true},"encoding":{"x":{"field":"x","type":"quantitative","scale":{"domain":[-123,-117],"nice":false},"axis":{"values":[-122,-120,-118],"labelExpr":"''+datum.value","labelPadding":8}},"y":{"field":"y","type":"quantitative","scale":{"domain":[34,39],"nice":false},"axis":{"values":[34,35,36,37,38,39],"labelPadding":10}},"color":{"field":"v","type":"quantitative","legend":null,"scale":{"domain":[0,7,15,20,29,38.4,46,52,60],"range":["#03209b","#0028ff","#00a8ff","#00ffff","#00ff90","#ffff00","#ff8000","#ff0000","#a00000"]}}}},{"data":{"name":"gray"},"mark":{"type":"line","clip":true,"color":"#c8c8c8","strokeWidth":3.4},"encoding":{"x":{"field":"lon","type":"quantitative"},"y":{"field":"lat","type":"quantitative"},"detail":{"field":"s"},"order":{"value":null}}},{"data":{"name":"black"},"mark":{"type":"line","clip":true,"color":"#000000","strokeWidth":1.5},"encoding":{"x":{"field":"lon","type":"quantitative"},"y":{"field":"lat","type":"quantitative"},"detail":{"field":"s"},"order":{"value":null}}}]},{"width":29,"height":222,"data":{"name":"cb60"},"mark":"rect","encoding":{"x":{"datum":0,"scale":{"domain":[0,1]},"axis":{"labels":false,"title":"s m² /kg","titleFontSize":25,"titleFontWeight":"normal","titleColor":"#222222","titleX":33,"titleY":9}},"x2":{"datum":1},"y":{"field":"a","type":"quantitative","scale":{"domain":[0,60],"nice":false},"axis":{"orient":"right","values":[0,20,40,60],"ticks":true,"tickSize":-3,"tickColor":"#404040","labelPadding":12}},"y2":{"field":"b"},"color":{"field":"v","type":"quantitative","legend":null,"scale":{"domain":[0,7,15,20,29,38.4,46,52,60],"range":["#03209b","#0028ff","#00a8ff","#00ffff","#00ff90","#ffff00","#ff8000","#ff0000","#a00000"]}}}}],"spacing":18,"bounds":"flush"},
{"hconcat":[{"width":236,"height":222,"title":"May: wrf3","layer":[{"data":{"name":"d3"},"mark":{"type":"rect","width":8.2,"height":9.2,"clip":true},"encoding":{"x":{"field":"x","type":"quantitative","scale":{"domain":[-123,-117],"nice":false},"axis":{"values":[-122,-120,-118],"labelExpr":"''+datum.value","labelPadding":8}},"y":{"field":"y","type":"quantitative","scale":{"domain":[34,39],"nice":false},"axis":{"values":[34,35,36,37,38,39],"labelPadding":10}},"color":{"field":"v","type":"quantitative","legend":null,"scale":{"domain":[0,7,15,20,29,38.4,46,52,60],"range":["#03209b","#0028ff","#00a8ff","#00ffff","#00ff90","#ffff00","#ff8000","#ff0000","#a00000"]}}}},{"data":{"name":"gray"},"mark":{"type":"line","clip":true,"color":"#c8c8c8","strokeWidth":3.4},"encoding":{"x":{"field":"lon","type":"quantitative"},"y":{"field":"lat","type":"quantitative"},"detail":{"field":"s"},"order":{"value":null}}},{"data":{"name":"black"},"mark":{"type":"line","clip":true,"color":"#000000","strokeWidth":1.5},"encoding":{"x":{"field":"lon","type":"quantitative"},"y":{"field":"lat","type":"quantitative"},"detail":{"field":"s"},"order":{"value":null}}}]},{"width":29,"height":222,"data":{"name":"cb60"},"mark":"rect","encoding":{"x":{"datum":0,"scale":{"domain":[0,1]},"axis":{"labels":false,"title":"s m² /kg","titleFontSize":25,"titleFontWeight":"normal","titleColor":"#222222","titleX":33,"titleY":9}},"x2":{"datum":1},"y":{"field":"a","type":"quantitative","scale":{"domain":[0,60],"nice":false},"axis":{"orient":"right","values":[0,20,40,60],"ticks":true,"tickSize":-3,"tickColor":"#404040","labelPadding":12}},"y2":{"field":"b"},"color":{"field":"v","type":"quantitative","legend":null,"scale":{"domain":[0,7,15,20,29,38.4,46,52,60],"range":["#03209b","#0028ff","#00a8ff","#00ffff","#00ff90","#ffff00","#ff8000","#ff0000","#a00000"]}}}}],"spacing":18,"bounds":"flush"}
],"spacing":36},
{"resolve":{"scale":{"color":"independent"}},"hconcat":[
{"hconcat":[{"width":236,"height":223,"title":"June: wrf1","layer":[{"data":{"name":"d4"},"mark":{"type":"rect","width":8.2,"height":9.2,"clip":true},"encoding":{"x":{"field":"x","type":"quantitative","scale":{"domain":[-123,-117],"nice":false},"axis":{"values":[-122,-120,-118],"labelExpr":"''+datum.value","labelPadding":8}},"y":{"field":"y","type":"quantitative","scale":{"domain":[34,39],"nice":false},"axis":{"values":[34,35,36,37,38,39],"labelPadding":10}},"color":{"field":"v","type":"quantitative","legend":null,"scale":{"domain":[0,4.7,10,13.3,19.3,25.6,30.7,34.7,40],"range":["#03209b","#0028ff","#00a8ff","#00ffff","#00ff90","#ffff00","#ff8000","#ff0000","#a00000"]}}}},{"data":{"name":"gray"},"mark":{"type":"line","clip":true,"color":"#c8c8c8","strokeWidth":3.4},"encoding":{"x":{"field":"lon","type":"quantitative"},"y":{"field":"lat","type":"quantitative"},"detail":{"field":"s"},"order":{"value":null}}},{"data":{"name":"black"},"mark":{"type":"line","clip":true,"color":"#000000","strokeWidth":1.5},"encoding":{"x":{"field":"lon","type":"quantitative"},"y":{"field":"lat","type":"quantitative"},"detail":{"field":"s"},"order":{"value":null}}}]},{"width":29,"height":223,"data":{"name":"cb40"},"mark":"rect","encoding":{"x":{"datum":0,"scale":{"domain":[0,1]},"axis":{"labels":false,"title":"s m² /kg","titleFontSize":25,"titleFontWeight":"normal","titleColor":"#222222","titleX":33,"titleY":9}},"x2":{"datum":1},"y":{"field":"a","type":"quantitative","scale":{"domain":[0,40],"nice":false},"axis":{"orient":"right","values":[0,10,20,30,40],"ticks":true,"tickSize":-3,"tickColor":"#404040","labelPadding":12}},"y2":{"field":"b"},"color":{"field":"v","type":"quantitative","legend":null,"scale":{"domain":[0,4.7,10,13.3,19.3,25.6,30.7,34.7,40],"range":["#03209b","#0028ff","#00a8ff","#00ffff","#00ff90","#ffff00","#ff8000","#ff0000","#a00000"]}}}}],"spacing":18,"bounds":"flush"},
{"hconcat":[{"width":236,"height":223,"title":"June: wrf2","layer":[{"data":{"name":"d5"},"mark":{"type":"rect","width":8.2,"height":9.2,"clip":true},"encoding":{"x":{"field":"x","type":"quantitative","scale":{"domain":[-123,-117],"nice":false},"axis":{"values":[-122,-120,-118],"labelExpr":"''+datum.value","labelPadding":8}},"y":{"field":"y","type":"quantitative","scale":{"domain":[34,39],"nice":false},"axis":{"values":[34,35,36,37,38,39],"labelPadding":10}},"color":{"field":"v","type":"quantitative","legend":null,"scale":{"domain":[0,4.7,10,13.3,19.3,25.6,30.7,34.7,40],"range":["#03209b","#0028ff","#00a8ff","#00ffff","#00ff90","#ffff00","#ff8000","#ff0000","#a00000"]}}}},{"data":{"name":"gray"},"mark":{"type":"line","clip":true,"color":"#c8c8c8","strokeWidth":3.4},"encoding":{"x":{"field":"lon","type":"quantitative"},"y":{"field":"lat","type":"quantitative"},"detail":{"field":"s"},"order":{"value":null}}},{"data":{"name":"black"},"mark":{"type":"line","clip":true,"color":"#000000","strokeWidth":1.5},"encoding":{"x":{"field":"lon","type":"quantitative"},"y":{"field":"lat","type":"quantitative"},"detail":{"field":"s"},"order":{"value":null}}}]},{"width":29,"height":223,"data":{"name":"cb40"},"mark":"rect","encoding":{"x":{"datum":0,"scale":{"domain":[0,1]},"axis":{"labels":false,"title":"s m² /kg","titleFontSize":25,"titleFontWeight":"normal","titleColor":"#222222","titleX":33,"titleY":9}},"x2":{"datum":1},"y":{"field":"a","type":"quantitative","scale":{"domain":[0,40],"nice":false},"axis":{"orient":"right","values":[0,10,20,30,40],"ticks":true,"tickSize":-3,"tickColor":"#404040","labelPadding":12}},"y2":{"field":"b"},"color":{"field":"v","type":"quantitative","legend":null,"scale":{"domain":[0,4.7,10,13.3,19.3,25.6,30.7,34.7,40],"range":["#03209b","#0028ff","#00a8ff","#00ffff","#00ff90","#ffff00","#ff8000","#ff0000","#a00000"]}}}}],"spacing":18,"bounds":"flush"},
{"hconcat":[{"width":236,"height":223,"title":"June: wrf3","layer":[{"data":{"name":"d6"},"mark":{"type":"rect","width":8.2,"height":9.2,"clip":true},"encoding":{"x":{"field":"x","type":"quantitative","scale":{"domain":[-123,-117],"nice":false},"axis":{"values":[-122,-120,-118],"labelExpr":"''+datum.value","labelPadding":8}},"y":{"field":"y","type":"quantitative","scale":{"domain":[34,39],"nice":false},"axis":{"values":[34,35,36,37,38,39],"labelPadding":10}},"color":{"field":"v","type":"quantitative","legend":null,"scale":{"domain":[0,4.7,10,13.3,19.3,25.6,30.7,34.7,40],"range":["#03209b","#0028ff","#00a8ff","#00ffff","#00ff90","#ffff00","#ff8000","#ff0000","#a00000"]}}}},{"data":{"name":"gray"},"mark":{"type":"line","clip":true,"color":"#c8c8c8","strokeWidth":3.4},"encoding":{"x":{"field":"lon","type":"quantitative"},"y":{"field":"lat","type":"quantitative"},"detail":{"field":"s"},"order":{"value":null}}},{"data":{"name":"black"},"mark":{"type":"line","clip":true,"color":"#000000","strokeWidth":1.5},"encoding":{"x":{"field":"lon","type":"quantitative"},"y":{"field":"lat","type":"quantitative"},"detail":{"field":"s"},"order":{"value":null}}}]},{"width":29,"height":223,"data":{"name":"cb40"},"mark":"rect","encoding":{"x":{"datum":0,"scale":{"domain":[0,1]},"axis":{"labels":false,"title":"s m² /kg","titleFontSize":25,"titleFontWeight":"normal","titleColor":"#222222","titleX":33,"titleY":9}},"x2":{"datum":1},"y":{"field":"a","type":"quantitative","scale":{"domain":[0,40],"nice":false},"axis":{"orient":"right","values":[0,10,20,30,40],"ticks":true,"tickSize":-3,"tickColor":"#404040","labelPadding":12}},"y2":{"field":"b"},"color":{"field":"v","type":"quantitative","legend":null,"scale":{"domain":[0,4.7,10,13.3,19.3,25.6,30.7,34.7,40],"range":["#03209b","#0028ff","#00a8ff","#00ffff","#00ff90","#ffff00","#ff8000","#ff0000","#a00000"]}}}}],"spacing":18,"bounds":"flush"}
],"spacing":36}
],"spacing":12}
